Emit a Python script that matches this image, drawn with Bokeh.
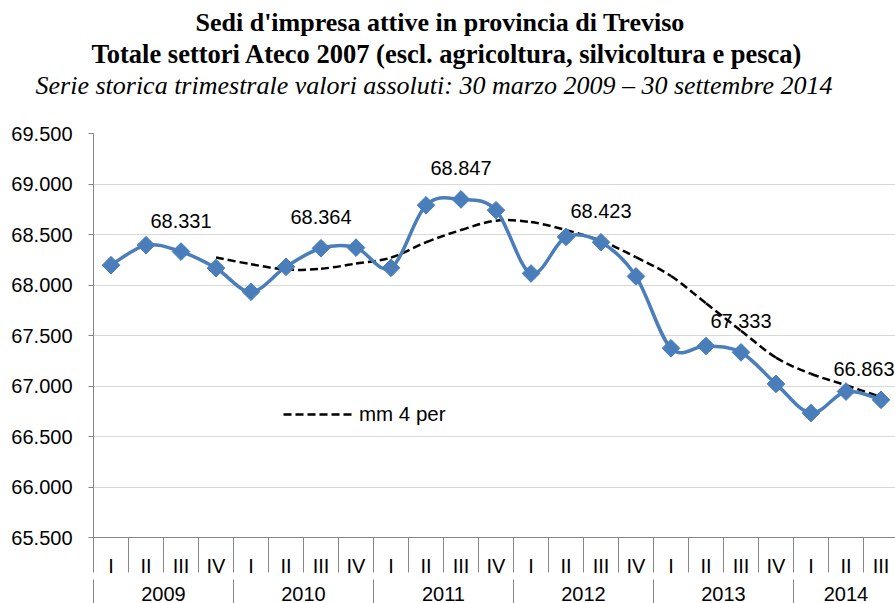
import math
from bokeh.plotting import figure
from bokeh.models import (Range1d, LinearAxis, FixedTicker, ColumnDataSource,
                          Title, Legend, LegendItem)
from bokeh.core.properties import value
from bokeh.embed import file_html
from bokeh.resources import INLINE

# ---------------- data ----------------
quarters = ["I", "II", "III", "IV"] * 5 + ["I", "II", "III"]
years = ["2009", "2010", "2011", "2012", "2013", "2014"]
quarters_per_year = [4, 4, 4, 4, 4, 3]
sedi = [68196, 68394, 68331, 68167, 67933, 68180, 68364, 68370, 68170, 68789,
        68847, 68740, 68114, 68476, 68423, 68085, 67373, 67396, 67333, 67021,
        66732, 66945, 66863]
mm4 = [None, None, None, 68272, 68206, 68153, 68161, 68212, 68271, 68423,
       68544, 68637, 68623, 68544, 68438, 68275, 68089, 67819, 67547, 67281,
       67121, 67008, 66890]
label_idx = [2, 6, 10, 14, 18, 22]
label_txt = ["68.331", "68.364", "68.847", "68.423", "67.333", "66.863"]
y_ticks = [65500, 66000, 66500, 67000, 67500, 68000, 68500, 69000, 69500]
y_tick_labels = ["65.500", "66.000", "66.500", "67.000", "67.500", "68.000",
                 "68.500", "69.000", "69.500"]
title1 = "Sedi d'impresa attive in provincia di Treviso"
title2 = "Totale settori Ateco 2007 (escl. agricoltura, silvicoltura e pesca)"
title3 = "Serie storica trimestrale valori assoluti: 30 marzo 2009 \u2013 30 settembre 2014"
legend_label = "mm 4 per"

# ---------------- style ----------------
BLUE = "#4a7ebb"
GREY = "#868686"
GRID = "#d9d9d9"
SANS = "Liberation Sans"
SERIF = "Liberation Serif"
FRAME_LEFT = 93

n = len(sedi)
xs = [i + 0.5 for i in range(n)]


def bezier_cols(px, py):
    m = len(px)
    d = dict(x0=[], y0=[], x1=[], y1=[], cx0=[], cy0=[], cx1=[], cy1=[])
    for i in range(m - 1):
        a = max(i - 1, 0)
        b = min(i + 2, m - 1)
        d["x0"].append(px[i]); d["y0"].append(py[i])
        d["x1"].append(px[i + 1]); d["y1"].append(py[i + 1])
        d["cx0"].append(px[i] + (px[i + 1] - px[a]) / 6.0)
        d["cy0"].append(py[i] + (py[i + 1] - py[a]) / 6.0)
        d["cx1"].append(px[i + 1] - (px[b] - px[i]) / 6.0)
        d["cy1"].append(py[i + 1] - (py[b] - py[i]) / 6.0)
    return d


p = figure(width=895, height=603, output_backend="svg", toolbar_location=None,
           title=None,
           x_range=Range1d(0, 802 / 35.0), y_range=Range1d(65500, 69500),
           x_axis_type=None, min_border_left=FRAME_LEFT, min_border_right=0,
           min_border_top=133, min_border_bottom=0)
p.outline_line_color = None
p.background_fill_color = "white"
p.border_fill_color = "white"

# empty spacer between frame and titles
p.add_layout(Title(text=" ", text_font=SERIF, text_font_size="26px", standoff=3),
             "above")
# titles: nearest-to-frame first (left edge in page px, size, style)
for txt, left, size, style in [(title3, 35, "26px", "italic"),
                               (title2, 91, "26.5px", "bold"),
                               (title1, 195, "26px", "bold")]:
    p.add_layout(Title(text=txt, align="left", offset=left - FRAME_LEFT,
                       vertical_align="bottom", standoff=0,
                       text_font=SERIF, text_font_size=size,
                       text_font_style=style, text_color="black"), "above")

# y axis
yt = FixedTicker(ticks=y_ticks)
ya = p.yaxis[0]
ya.ticker = yt
ya.major_label_overrides = {t: l for t, l in zip(y_ticks, y_tick_labels)}
ya.major_tick_in = 0
ya.major_tick_out = 5
ya.major_tick_line_color = GREY
ya.minor_tick_line_color = None
ya.axis_line_color = GREY
ya.major_label_standoff = 16
ya.major_label_text_font = SANS
ya.major_label_text_font_size = "20px"
ya.major_label_text_color = "black"
p.ygrid[0].ticker = yt
p.ygrid[0].grid_line_color = GRID

# x axis: quarters
bounds = list(range(n + 1))
ax1 = LinearAxis(ticker=FixedTicker(ticks=xs, minor_ticks=bounds),
                 major_label_overrides={x: q for x, q in zip(xs, quarters)},
                 major_tick_in=0, major_tick_out=0, major_tick_line_color=None,
                 minor_tick_in=0, minor_tick_out=35, minor_tick_line_color=GREY,
                 axis_line_color=GREY, major_label_standoff=-18,
                 major_label_text_font=SANS, major_label_text_font_size="20px",
                 major_label_text_color="black")
p.add_layout(ax1, "below")

# x axis: years
ycent, ybounds, c = [], [], 0
for k in quarters_per_year:
    ybounds.append(c)
    ycent.append(c + k / 2.0)
    c += k
ybounds.append(c)
ax2 = LinearAxis(ticker=FixedTicker(ticks=ycent, minor_ticks=ybounds),
                 major_label_overrides={x: y for x, y in zip(ycent, years)},
                 major_tick_in=0, major_tick_out=0, major_tick_line_color=None,
                 minor_tick_in=0, minor_tick_out=40, minor_tick_line_color=GREY,
                 axis_line_color=None, major_label_standoff=-33,
                 major_label_text_font=SANS, major_label_text_font_size="20px",
                 major_label_text_color="black")
p.add_layout(ax2, "below")

# moving average (dashed, smoothed)
ma_x = [x for x, v in zip(xs, mm4) if v is not None]
ma_y = [v for v in mm4 if v is not None]
ma_r = p.bezier(source=ColumnDataSource(bezier_cols(ma_x, ma_y)),
                x0="x0", y0="y0", x1="x1", y1="y1", cx0="cx0", cy0="cy0",
                cx1="cx1", cy1="cy1", line_color="black", line_width=2.5,
                line_dash="8 4")

# main series (smoothed)
p.bezier(source=ColumnDataSource(bezier_cols(xs, sedi)),
         x0="x0", y0="y0", x1="x1", y1="y1", cx0="cx0", cy0="cy0",
         cx1="cx1", cy1="cy1", line_color=BLUE, line_width=3.5)
p.scatter(xs, sedi, marker="square", size=12.5, angle=math.pi / 4,
          fill_color=BLUE, line_color=BLUE)

# data labels
lab_x = [xs[i] for i in label_idx]
lab_y = [sedi[i] for i in label_idx]
lab_off = [0] * len(label_idx)
lab_off[-1] = -17
p.text(source=ColumnDataSource(dict(x=lab_x, y=lab_y, t=label_txt, o=lab_off)),
       x="x", y="y", text="t", x_offset="o", y_offset=-31,
       text_align="center", text_baseline="alphabetic",
       text_font=value(SANS), text_font_size="20px", text_color="black")

# legend
leg = Legend(items=[LegendItem(label=legend_label, renderers=[ma_r])],
             location=(190, 111), glyph_width=70, glyph_height=20,
             label_height=20, label_standoff=6, padding=0, margin=0, spacing=0,
             border_line_color=None, background_fill_alpha=0,
             label_text_font=SANS, label_text_font_size="20.5px",
             label_text_color="black")
p.add_layout(leg)

open("out.html", "w").write(file_html(p, INLINE))
